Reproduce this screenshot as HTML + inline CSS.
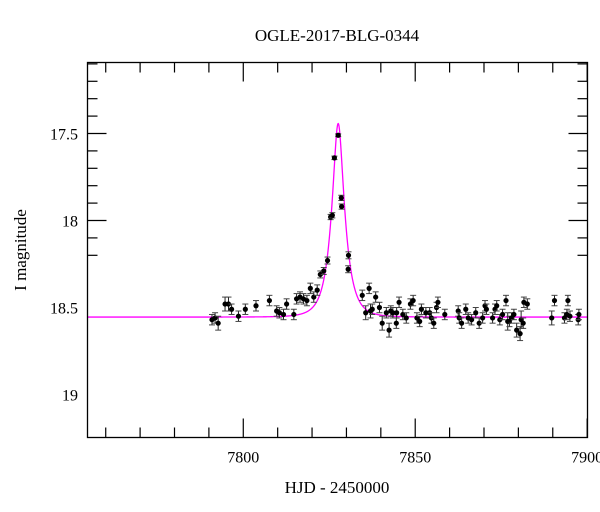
<!DOCTYPE html>
<html><head><meta charset="utf-8"><style>
html,body{margin:0;padding:0;background:#fff}
svg{display:block}
text{font-family:"Liberation Serif","DejaVu Serif",serif;fill:#000}
</style></head><body>
<svg id="chart" width="600" height="512" viewBox="0 0 600 512" xmlns="http://www.w3.org/2000/svg">
<text x="337" y="41" font-size="17" text-anchor="middle">OGLE-2017-BLG-0344</text>
<text x="337" y="493" font-size="17" text-anchor="middle">HJD - 2450000</text>
<text x="0" y="0" font-size="17" text-anchor="middle" transform="translate(26,250) rotate(-90)">I magnitude</text>
<g id="ticks"></g>
<g id="model"></g>
<g id="points"></g>
<rect x="87.5" y="62.5" width="500" height="375" fill="none" stroke="#000" stroke-width="1.3"/>
</svg>
<script>
const hjd=[7790.9,7791.8,7792.7,7794.7,7795.7,7796.6,7798.6,7800.6,7803.7,7807.6,7809.7,7810.5,7811.7,7812.6,7814.7,7815.5,7816.5,7817.5,7818.5,7819.5,7820.5,7821.5,7822.4,7823.4,7824.5,7825.4,7825.9,7826.5,7827.6,7828.5,7828.6,7830.6,7830.5,7834.6,7836.6,7835.6,7837.0,7837.5,7838.5,7839.6,7840.4,7841.6,7842.4,7842.9,7843.5,7844.5,7844.6,7845.3,7846.4,7847.4,7848.6,7849.4,7850.5,7851.3,7851.8,7853.1,7854.2,7854.7,7855.4,7856.2,7856.6,7858.6,7862.5,7862.8,7863.5,7864.7,7865.4,7866.4,7867.6,7868.6,7869.6,7870.3,7870.7,7872.5,7873.2,7873.7,7874.6,7875.4,7876.4,7876.9,7877.4,7878.0,7878.7,7879.5,7880.5,7880.8,7881.4,7881.6,7882.6,7889.7,7890.5,7893.4,7894.4,7894.1,7895.0,7897.4,7897.6];
const imag=[18.57,18.56,18.59,18.48,18.48,18.51,18.55,18.51,18.49,18.46,18.52,18.53,18.54,18.48,18.54,18.45,18.44,18.45,18.46,18.39,18.44,18.40,18.31,18.29,18.23,17.98,17.97,17.64,17.51,17.87,17.92,18.20,18.28,18.43,18.39,18.53,18.52,18.51,18.44,18.50,18.59,18.53,18.63,18.52,18.53,18.59,18.53,18.47,18.54,18.56,18.48,18.46,18.56,18.58,18.51,18.53,18.53,18.56,18.59,18.50,18.47,18.54,18.52,18.56,18.59,18.51,18.56,18.57,18.53,18.59,18.56,18.49,18.51,18.56,18.51,18.49,18.57,18.54,18.46,18.58,18.58,18.56,18.54,18.63,18.65,18.57,18.59,18.47,18.48,18.56,18.46,18.56,18.46,18.54,18.55,18.57,18.54];
const ierr=[0.03,0.03,0.04,0.04,0.04,0.03,0.03,0.03,0.03,0.03,0.03,0.03,0.03,0.03,0.03,0.03,0.03,0.03,0.03,0.03,0.03,0.03,0.02,0.02,0.02,0.015,0.015,0.01,0.008,0.015,0.015,0.02,0.02,0.03,0.03,0.04,0.04,0.03,0.03,0.03,0.04,0.03,0.04,0.03,0.03,0.03,0.03,0.03,0.03,0.03,0.03,0.03,0.03,0.03,0.03,0.03,0.03,0.03,0.03,0.03,0.03,0.03,0.03,0.03,0.03,0.03,0.03,0.03,0.03,0.03,0.03,0.03,0.03,0.03,0.03,0.03,0.03,0.03,0.03,0.05,0.03,0.03,0.03,0.04,0.04,0.05,0.03,0.03,0.03,0.04,0.03,0.03,0.03,0.03,0.03,0.03,0.03];
const xTickLabels=[7800,7850,7900];
const yTickLabels=[17.5,18,18.5,19];
const model={t0:7827.6,u0:0.378,tE:3.6,base:18.555};
const X0=7754.7,X1=7900.1,Y0=17.092,Y1=19.247;
const L=87.5,R=587.5,T=62.5,B=437.5;
const sx=t=>L+(t-X0)/(X1-X0)*(R-L);
const sy=m=>T+(m-Y0)/(Y1-Y0)*(B-T);
const NS='http://www.w3.org/2000/svg';
function mk(tag,attrs,parent){const e=document.createElementNS(NS,tag);for(const k in attrs)e.setAttribute(k,attrs[k]);parent.appendChild(e);return e;}
const gt=document.getElementById('ticks');
for(let v=7760;v<=7900;v+=10){
  const x=sx(v);const maj=v%50===0;const len=maj?19:10;
  const t1=mk('line',{x1:x,y1:B,x2:x,y2:B-len,stroke:'#000','stroke-width':1.2},gt);
  
  
  const t2=mk('line',{x1:x,y1:T,x2:x,y2:T+len,stroke:'#000','stroke-width':1.2},gt);
  
  
}
xTickLabels.forEach(v=>{const t=mk('text',{x:sx(v),y:B+25,'font-size':16,'text-anchor':'middle'},gt);t.textContent=v;
  
  });
for(let k=11;k<=22;k++){
  const v=k/10;const m=v*10/10;const mv=k*0.1+16;const y=sy(mv);
  const maj=(k%5===0);const len=maj?19:10;
  const a=mk('line',{x1:L,y1:y,x2:L+len,y2:y,stroke:'#000','stroke-width':1.2},gt);
  
  
  const b=mk('line',{x1:R,y1:y,x2:R-len,y2:y,stroke:'#000','stroke-width':1.2},gt);
  
  
}
yTickLabels.forEach(v=>{const t=mk('text',{x:78,y:sy(v)+6,'font-size':16,'text-anchor':'end'},gt);t.textContent=v;
  
  });
// model curve
let d='';
for(let t=X0;t<=X1;t+=0.05){
  const tau=(t-model.t0)/model.tE;const u=Math.sqrt(model.u0*model.u0+tau*tau);
  const A=(u*u+2)/(u*Math.sqrt(u*u+4));const m=model.base-2.5*Math.log10(A);
  d+=(d?'L':'M')+sx(t).toFixed(2)+','+sy(m).toFixed(2);
}
const mp=mk('path',{d:d,fill:'none',stroke:'#ff00ff','stroke-width':1.3},document.getElementById('model'));


// points
const gp=document.getElementById('points');
hjd.forEach((t,i)=>{
  const x=sx(t),y=sy(imag[i]),y1=sy(imag[i]-ierr[i]),y2=sy(imag[i]+ierr[i]);
  const g=mk('g',{},gp);
  
  
  mk('line',{x1:x,y1:y1,x2:x,y2:y2,stroke:'#222','stroke-width':1},g);
  mk('line',{x1:x-3,y1:y1,x2:x+3,y2:y1,stroke:'#444','stroke-width':1},g);
  mk('line',{x1:x-3,y1:y2,x2:x+3,y2:y2,stroke:'#444','stroke-width':1},g);
  mk('circle',{cx:x,cy:y,r:2.6,fill:'#000'},g);
});
</script>
</body></html>
